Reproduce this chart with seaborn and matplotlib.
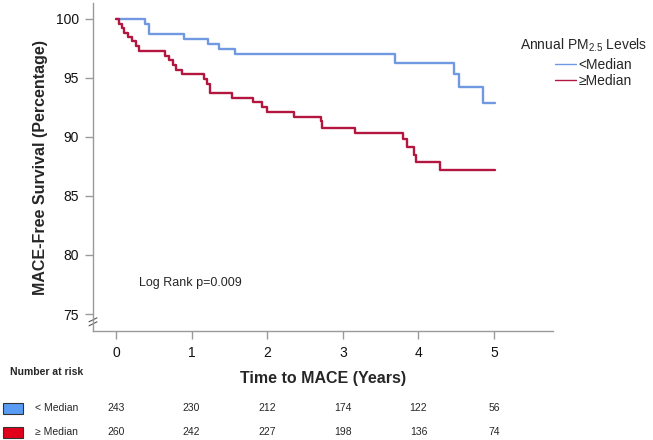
import matplotlib
matplotlib.use("Agg")
import matplotlib.pyplot as plt
import matplotlib.transforms as mtransforms
from matplotlib.patches import Rectangle
import seaborn as sns
import pandas as pd

# Kaplan-Meier steps (years, % event-free)
low_times = [0, 0.38, 0.44, 0.90, 1.22, 1.36, 1.57, 3.69, 4.47, 4.54, 4.86, 5.01]
low_surv = [100, 99.6, 98.7, 98.28, 97.88, 97.43, 97.0, 96.3, 95.3, 94.2, 92.86, 92.86]

high_times = [0, 0.04, 0.073, 0.11, 0.16, 0.21, 0.26, 0.31, 0.65, 0.70, 0.75, 0.80,
              0.87, 1.16, 1.21, 1.25, 1.53, 1.81, 1.93, 2.00, 2.35, 2.71, 2.73, 3.16,
              3.80, 3.85, 3.94, 3.97, 4.28, 5.01]
high_surv = [100, 99.6, 99.2, 98.85, 98.5, 98.1, 97.7, 97.3, 96.9, 96.5, 96.1, 95.7,
             95.3, 94.9, 94.5, 93.7, 93.33, 92.94, 92.57, 92.14, 91.67, 91.36, 90.8, 90.3,
             89.83, 89.13, 88.47, 87.9, 87.2, 87.2]

group_names = ["<Median", "\u2265Median"]
risk_times = [0, 1, 2, 3, 4, 5]
risk_low = [243, 230, 212, 174, 122, 56]
risk_high = [260, 242, 227, 198, 136, 74]
y_ticks = [75, 80, 85, 90, 95, 100]

df = pd.concat([
    pd.DataFrame({"time": low_times, "surv": low_surv, "group": group_names[0]}),
    pd.DataFrame({"time": high_times, "surv": high_surv, "group": group_names[1]}),
], ignore_index=True)

sns.set_style("white")
plt.rcParams["font.family"] = ["Liberation Sans", "DejaVu Sans"]
plt.rcParams["mathtext.default"] = "regular"

line_colors = {group_names[0]: "#7099e2", group_names[1]: "#b3163f"}
grey = "#9a9a9a"

fig = plt.figure(figsize=(6.53, 4.4), dpi=100)
ax = fig.add_axes([93 / 653, 1 - 331 / 440, 460 / 653, 328 / 440])

sns.lineplot(data=df, x="time", y="surv", hue="group", palette=line_colors,
             estimator=None, sort=False, drawstyle="steps-post", linewidth=1.7,
             legend=False, ax=ax)

ax.set_xlim(-0.304, 5.78)
ax.set_ylim(73.56, 101.35)
ax.set_yticks(y_ticks)
ax.set_xticks(risk_times)
ax.tick_params(axis="both", direction="out", length=6, width=1, color=grey,
               labelsize=10, labelcolor="#111111", bottom=True, left=True)
ax.tick_params(axis="x", pad=5)
ax.tick_params(axis="y", pad=4)
for side in ["top", "right"]:
    ax.spines[side].set_visible(False)
for side in ["left", "bottom"]:
    ax.spines[side].set_color(grey)
    ax.spines[side].set_linewidth(1)

ax.set_xlabel("Time to MACE (Years)", fontsize=11.5, fontweight="bold", labelpad=8)
ax.set_ylabel("MACE-Free Survival (Percentage)", fontsize=11.5, fontweight="bold",
              labelpad=6)

# axis break marks on the left spine
for dy in (-2, 2):
    off = mtransforms.offset_copy(ax.transAxes, fig=fig, x=0, y=dy, units="dots")
    ax.plot([-4 / 460, 4 / 460], [0.022, 0.034], transform=off, color="#555555",
            lw=0.8, clip_on=False)

ax.text(0.3, 77.6, "Log Rank p=0.009", fontsize=9, va="center")

# legend
fig.text(520 / 653, 1 - 45 / 440, "Annual PM$_{2.5}$ Levels", fontsize=10, va="center")
handles = [plt.Line2D([], [], color=line_colors[g], lw=1) for g in group_names]
fig.legend(handles, group_names, loc="upper left",
           bbox_to_anchor=(555 / 653, 1 - 58 / 440), frameon=False, fontsize=10,
           handlelength=1.5, handletextpad=0.2, labelspacing=0.12,
           borderpad=0, borderaxespad=0)

# number at risk table
fig.text(10 / 653, 1 - 372 / 440, "Number at risk", fontsize=7.5, fontweight="bold",
         va="center")
trans = mtransforms.blended_transform_factory(ax.transData, fig.transFigure)
rows = [("< Median", risk_low, "#5a9bf5", 408), ("\u2265 Median", risk_high, "#e0001a", 432)]
for label, counts, color, ypx in rows:
    yf = 1 - ypx / 440
    fig.patches.append(Rectangle((3 / 653, yf - 5.5 / 440), 20 / 653, 11 / 440,
                                 transform=fig.transFigure, facecolor=color,
                                 edgecolor="#333333", lw=0.8))
    fig.text(35 / 653, yf, label, fontsize=7.5, va="center")
    for t, n in zip(risk_times, counts):
        ax.text(t, yf, str(n), transform=trans, fontsize=7.5, ha="center", va="center")

fig.savefig("out.png", dpi=100)
